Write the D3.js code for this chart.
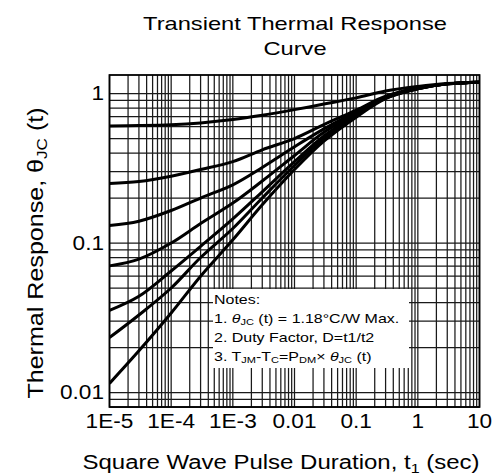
<!DOCTYPE html>
<html>
<head>
<meta charset="utf-8">
<script src="https://cdn.jsdelivr.net/npm/d3@7"></script>
<style>
  body { margin: 0; background: #fff; }
  text { font-family: "Liberation Sans", Arial, sans-serif; fill: #000; }
</style>
</head>
<body>
<div id="chart"></div>
<script>
var pulseTimes = [1e-5, 3e-5, 1e-4, 3e-4, 1e-3, 3e-3, 1e-2, 3e-2, 0.1, 0.3, 1, 3, 10];

// thermal response per duty factor
var duty05 = [0.607, 0.61, 0.618, 0.636, 0.67, 0.716, 0.78, 0.85, 0.935, 1.04, 1.115, 1.165, 1.19];
var duty02 = [0.25, 0.258, 0.28, 0.31, 0.35, 0.42, 0.5, 0.62, 0.775, 0.96, 1.09, 1.16, 1.19];
var duty01 = [0.131, 0.14, 0.165, 0.2, 0.245, 0.32, 0.44, 0.58, 0.755, 0.95, 1.085, 1.16, 1.19];
var duty005 = [0.0703, 0.078, 0.1, 0.135, 0.185, 0.26, 0.385, 0.55, 0.735, 0.94, 1.08, 1.16, 1.19];
var duty002 = [0.0354, 0.044, 0.065, 0.095, 0.145, 0.22, 0.35, 0.52, 0.72, 0.935, 1.08, 1.16, 1.19];
var duty001 = [0.0233, 0.033, 0.05, 0.08, 0.125, 0.2, 0.33, 0.5, 0.71, 0.93, 1.075, 1.16, 1.19];
var singlePulse = [0.0115, 0.019, 0.034, 0.06, 0.105, 0.18, 0.31, 0.48, 0.695, 0.925, 1.075, 1.16, 1.19];

var allSeries = [duty05, duty02, duty01, duty005, duty002, duty001, singlePulse];

// tick labels
var xTickValues = [1e-5, 1e-4, 1e-3, 0.01, 0.1, 1, 10];
var xTickLabels = ["1E-5", "1E-4", "1E-3", "0.01", "0.1", "1", "10"];
var yTickValues = [0.01, 0.1, 1];
var yTickLabels = ["0.01", "0.1", "1"];

var width = 494, height = 476;
var plot = { left: 109.5, right: 479.5, top: 75, bottom: 407 };

var svg = d3.select("#chart").append("svg")
  .attr("width", width)
  .attr("height", height);

var x = d3.scaleLog().domain([1e-5, 10]).range([plot.left, plot.right]);
var y = d3.scaleLog().domain([0.008, 1.33]).range([plot.bottom, plot.top]);

// helper for the horizontally stretched lettering of the original
function stretchedText(g, px, py, size, sx, anchor) {
  return g.append("text")
    .attr("transform", "translate(" + px + "," + py + ") scale(" + sx + ",1)")
    .attr("text-anchor", anchor)
    .style("font-size", size + "px");
}

// grid lines (every 1..9 of each decade)
var grid = svg.append("g");
grid.selectAll("line.vx")
  .data(x.ticks())
  .enter().append("line")
  .attr("x1", d => x(d)).attr("x2", d => x(d))
  .attr("y1", plot.top).attr("y2", plot.bottom)
  .attr("stroke", "#1a1a1a").attr("stroke-width", 1.25);

grid.selectAll("line.hy")
  .data(y.ticks().filter(d => d <= 1.0001))
  .enter().append("line")
  .attr("x1", plot.left).attr("x2", plot.right)
  .attr("y1", d => y(d)).attr("y2", d => y(d))
  .attr("stroke", "#1a1a1a").attr("stroke-width", 1.25);

// white notes box sits on top of the grid
var notesBox = { x: 213, y: 289, w: 196, h: 79 };
svg.append("rect")
  .attr("x", notesBox.x).attr("y", notesBox.y)
  .attr("width", notesBox.w).attr("height", notesBox.h)
  .attr("fill", "#fff");

// curves
svg.append("clipPath").attr("id", "clip")
  .append("rect")
  .attr("x", plot.left).attr("y", plot.top)
  .attr("width", plot.right - plot.left).attr("height", plot.bottom - plot.top);

var line = d3.line()
  .x(d => x(d[0]))
  .y(d => y(d[1]))
  .curve(d3.curveCatmullRom.alpha(0.5));

svg.append("g").attr("clip-path", "url(#clip)")
  .selectAll("path")
  .data(allSeries)
  .enter().append("path")
  .attr("d", s => line(s.map((v, i) => [pulseTimes[i], v])))
  .attr("fill", "none")
  .attr("stroke", "#000")
  .attr("stroke-width", 3);

// plot border
svg.append("rect")
  .attr("x", plot.left).attr("y", plot.top)
  .attr("width", plot.right - plot.left).attr("height", plot.bottom - plot.top)
  .attr("fill", "none").attr("stroke", "#000").attr("stroke-width", 1.8);

// tick labels
xTickValues.forEach(function (v, i) {
  stretchedText(svg, x(v), 427.5, 19.5, 1.16, "middle").text(xTickLabels[i]);
});
yTickValues.forEach(function (v, i) {
  stretchedText(svg, 104, y(v) + 6.5, 19.5, 1.16, "end").text(yTickLabels[i]);
});

// title
stretchedText(svg, 295, 30, 18.5, 1.28, "middle").text("Transient Thermal Response");
stretchedText(svg, 295, 55, 18.5, 1.28, "middle").text("Curve");

// x axis title
var xt = stretchedText(svg, 281, 469, 19.5, 1.23, "middle");
xt.append("tspan").text("Square Wave Pulse Duration, t");
xt.append("tspan").attr("dy", 4).style("font-size", "13px").text("1");
xt.append("tspan").attr("dy", -4).text(" (sec)");

// y axis title
var yt = svg.append("text")
  .attr("transform", "translate(43,253) rotate(-90) scale(1.14,1)")
  .attr("text-anchor", "middle")
  .style("font-size", "22px");
yt.append("tspan").text("Thermal Response, \u03B8");
yt.append("tspan").attr("dy", 4).style("font-size", "15px").text("JC");
yt.append("tspan").attr("dy", -4).text(" (t)");

// notes
var notesX = 214;
stretchedText(svg, notesX, 304, 12.3, 1.3, "start").text("Notes:");

var n1 = stretchedText(svg, notesX, 323, 12.3, 1.3, "start");
n1.append("tspan").text("1.   ");
n1.append("tspan").style("font-style", "italic").text("\u03B8");
n1.append("tspan").attr("dy", 2).style("font-size", "8.5px").text("JC");
n1.append("tspan").attr("dy", -2).text(" (t) = 1.18\u00B0C/W Max.");

stretchedText(svg, notesX, 342, 12.3, 1.3, "start").text("2. Duty Factor, D=t1/t2");

var n3 = stretchedText(svg, notesX, 361, 12.3, 1.3, "start");
n3.append("tspan").text("3. T");
n3.append("tspan").attr("dy", 2).style("font-size", "8.5px").text("JM");
n3.append("tspan").attr("dy", -2).text("-T");
n3.append("tspan").attr("dy", 2).style("font-size", "8.5px").text("C");
n3.append("tspan").attr("dy", -2).text("=P");
n3.append("tspan").attr("dy", 2).style("font-size", "8.5px").text("DM");
n3.append("tspan").attr("dy", -2).text("\u00D7 ");
n3.append("tspan").style("font-style", "italic").text("\u03B8");
n3.append("tspan").attr("dy", 2).style("font-size", "8.5px").text("JC");
n3.append("tspan").attr("dy", -2).text(" (t)");
</script>
</body>
</html>
